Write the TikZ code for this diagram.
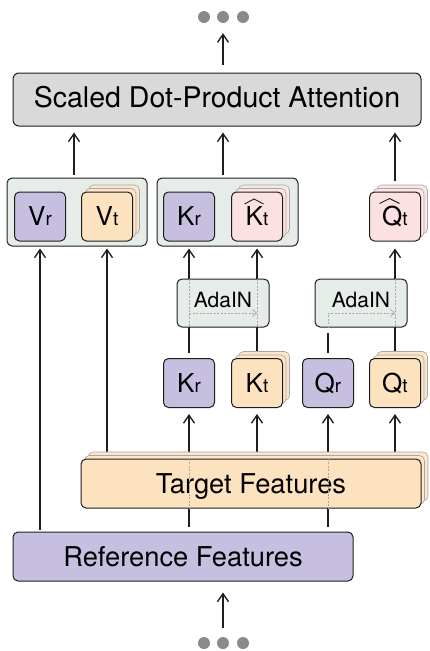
\documentclass[tikz,border=0pt]{standalone}
\usepackage{fontspec}
\setmainfont{TeX Gyre Heros}
\usetikzlibrary{arrows.meta,shadows,backgrounds,calc}

\definecolor{purp}{HTML}{C6BFE0}
\definecolor{peach}{HTML}{FDE2C0}
\definecolor{pinkc}{HTML}{FBE1E1}
\definecolor{grpc}{HTML}{E6EDE9}
\definecolor{sdpac}{HTML}{D9D9D9}
\definecolor{edgec}{HTML}{1E1E1E}
\definecolor{dotc}{HTML}{8A8A8A}
\definecolor{dashc}{HTML}{A8A8A8}

\newcommand\sbt[1]{{\fontsize{19}{19}\selectfont #1}}

\tikzset{
  box/.style={draw=edgec, line width=1pt, rounded corners=5pt, inner sep=0pt},
  grp/.style={box, fill=grpc, minimum height=68pt},
  sym/.style={box, minimum width=51pt, minimum height=49pt,
    font=\fontsize{26}{26}\selectfont, text height=18.7pt, text depth=0pt},
  wide/.style={box, minimum width=340pt, minimum height=49pt,
    font=\fontsize{27.3}{28}\selectfont, text height=19.6pt, text depth=0pt},
  ada/.style={box, fill=grpc, minimum width=92pt, minimum height=48pt,
    font=\fontsize{21}{22}\selectfont, text height=15pt, text depth=7pt},
  stackpeach/.style={double copy shadow={shadow xshift=3.5pt, shadow yshift=3.5pt,
    fill=peach!85!white, draw=black!35, line width=0.6pt}},
  stackpink/.style={double copy shadow={shadow xshift=3.5pt, shadow yshift=3.5pt,
    fill=pinkc!85!white, draw=black!35, line width=0.6pt}},
  dotn/.style={circle, fill=dotc, draw=none, minimum size=12pt, inner sep=0pt},
  conn/.style={draw=edgec, line width=1.35pt},
  arr/.style={conn, -{Straight Barb[length=8pt,width=11pt]}},
  ghost/.style={draw=dashc, line width=0.7pt, dash pattern=on 2pt off 1.5pt},
  hatline/.style={draw=edgec, line width=0.9pt, line join=miter}
}

\begin{document}
\begin{tikzpicture}[x=1pt,y=-1pt]
\useasboundingbox (0,0) rectangle (430,651);

% columns
\coordinate (cV) at (74,0);
\coordinate (cM) at (223,0);

% top and bottom dots
\node[dotn] (t1) at (204,17) {};
\node[dotn] (t2) at (223,17) {};
\node[dotn] (t3) at (243,17) {};
\node[dotn] (b1) at (204,643) {};
\node[dotn] (b2) at (223,643) {};
\node[dotn] (b3) at (243,643) {};

% attention box
\node[box, fill=sdpac, minimum width=408pt, minimum height=53pt, rounded corners=6pt,
      font=\fontsize{28.5}{30}\selectfont, text height=20.5pt, text depth=4pt]
      (sdpa) at (217,99.5) {Scaled Dot-Product Attention};

% groups
\node[grp, minimum width=140pt] (gV) at (77,212) {};
\node[grp, minimum width=141pt] (gK) at (227.5,212) {};

% top symbols
\node[sym, fill=purp] (Vr) at (40,216.5) {V\sbt{r}};
\node[sym, fill=peach, stackpeach] (Vt) at (107,216.5) {V\sbt{t}};
\node[sym, fill=purp] (Kr) at (189,216.5) {K\sbt{r}};
\node[sym, fill=pinkc, stackpink] (Kh) at (257,216.5) {K\sbt{t}};
\node[sym, fill=pinkc, stackpink] (Qh) at (395,216.5) {Q\sbt{t}};

% hats
\draw[hatline] ([shift={(-12.5,-12.5)}]Kh.center) -- ([shift={(-3,-17.5)}]Kh.center) -- ([shift={(6.5,-12.5)}]Kh.center);
\draw[hatline] ([shift={(-15.5,-13)}]Qh.center) -- ([shift={(-5.5,-18)}]Qh.center) -- ([shift={(4.5,-13)}]Qh.center);

% AdaIN
\node[ada] (A1) at (223,303) {AdaIN};
\node[ada] (A2) at (361,303) {AdaIN};

% lower symbols
\node[sym, fill=purp] (Kr2) at (189,383) {K\sbt{r}};
\node[sym, fill=peach, stackpeach] (Kt2) at (257,383) {K\sbt{t}};
\node[sym, fill=purp] (Qr) at (328,383) {Q\sbt{r}};
\node[sym, fill=peach, stackpeach] (Qt) at (395,383) {Q\sbt{t}};

% features
\node[wide, fill=peach, stackpeach] (TF) at (251,483.5) {Target Features};
\node[wide, fill=purp] (RF) at (183,556.5) {Reference Features};

% connectors (behind the boxes)
\begin{scope}[on background layer]
\draw[arr] ([yshift=8pt]sdpa.north -| cM) -- ([yshift=-10pt]t2.south);
\draw[arr] ([yshift=3pt]gV.north -| cV) -- ([yshift=-6pt]sdpa.south -| cV);
\draw[arr] ([yshift=3pt]gK.north -| cM) -- ([yshift=-6pt]sdpa.south -| cM);
\draw[arr] ([yshift=10.5pt]Qh.north) -- ([yshift=-6pt]sdpa.south -| Qh);
\draw[arr] ([yshift=2pt]RF.north -| Vr) -- ([yshift=-2pt]gV.south -| Vr);
\draw[arr] ([yshift=7pt]TF.north -| Vt) -- ([yshift=-2pt]gV.south -| Vt);
\draw[arr] ([yshift=5pt]Kr2.north) -- ([yshift=-2pt]gK.south -| Kr2);
\draw[arr] ([yshift=5pt]Kt2.north) -- ([yshift=-2pt]gK.south -| Kt2);
\draw[conn] ([yshift=5pt]Qr.north) -- ([yshift=-5pt]A2.south -| Qr);
\draw[arr] ([yshift=5pt]Qt.north) -- ([yshift=-7pt]Qh.south);
\draw[arr] ([yshift=5pt]RF.north -| Kr2) -- ([yshift=-6pt]Kr2.south);
\draw[arr] ([yshift=7pt]TF.north -| Kt2) -- ([yshift=-6pt]Kt2.south);
\draw[arr] ([yshift=5pt]RF.north -| Qr) -- ([yshift=-6pt]Qr.south);
\draw[arr] ([yshift=7pt]TF.north -| Qt) -- ([yshift=-6pt]Qt.south);
\draw[arr] ([yshift=9pt]b2.north) -- ([yshift=-11pt]RF.south -| b2);
\end{scope}

% dashed paths seen through boxes
\draw[ghost] (TF.north -| Kr2) -- (TF.south -| Kr2);
\draw[ghost] (TF.north -| Qr) -- (TF.south -| Qr);
\draw[ghost] (A1.north -| Kr2) -- (A1.south -| Kr2);
\draw[ghost] (A1.north -| Kt2) -- (A1.south -| Kt2);
\coordinate (h1) at ([yshift=-10pt]A1.center);
\draw[ghost, -{Straight Barb[length=4pt,width=7pt]}] (h1 -| Kr2) -- (h1 -| Kt2);
\coordinate (h2) at ([yshift=-10pt]A2.center);
\draw[ghost, -{Straight Barb[length=4pt,width=7pt]}] (A2.south -| Qr) -- (h2 -| Qr) -- (h2 -| Qt);
\draw[ghost] (A2.north -| Qt) -- (A2.south -| Qt);
\end{tikzpicture}
\end{document}
